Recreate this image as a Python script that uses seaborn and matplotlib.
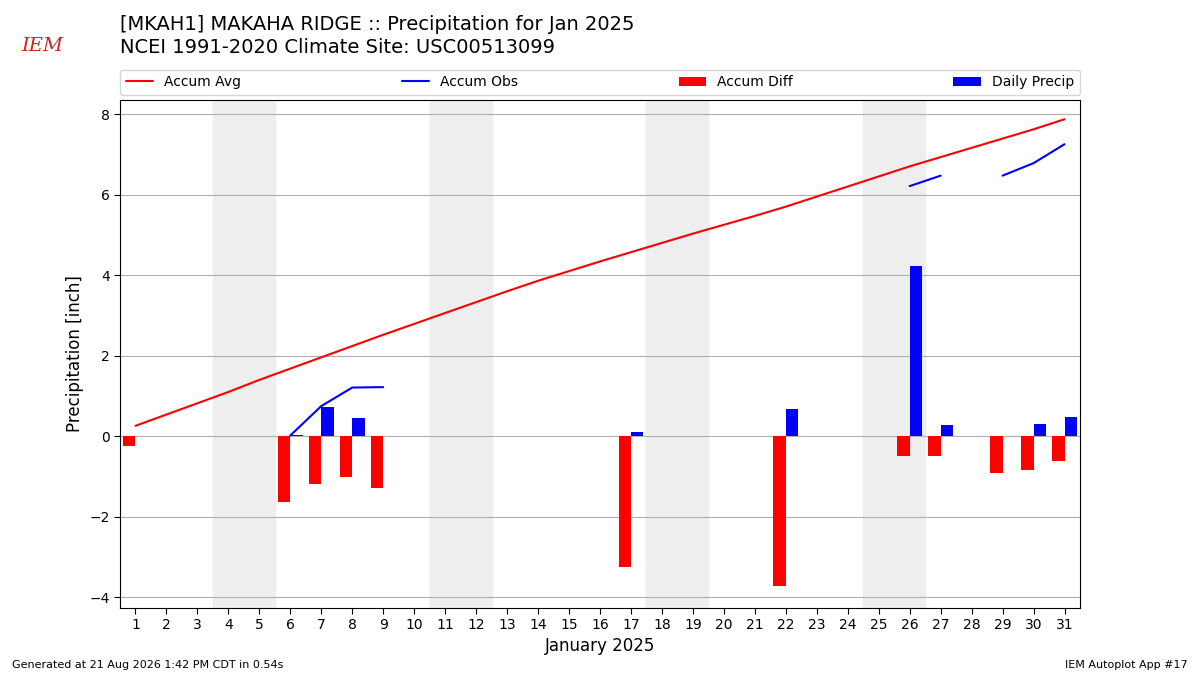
import numpy as np
import matplotlib
matplotlib.use("Agg")
import matplotlib.pyplot as plt
import seaborn as sns

days = np.arange(1, 32)
accum_avg = [0.26, 0.54, 0.82, 1.10, 1.40, 1.68, 1.96, 2.24, 2.52, 2.79, 3.06, 3.33,
             3.60, 3.86, 4.10, 4.34, 4.57, 4.80, 5.03, 5.25, 5.47, 5.70, 5.95, 6.20,
             6.45, 6.70, 6.93, 7.16, 7.39, 7.62, 7.87]
nan = np.nan
accum_obs = [0.01, nan, nan, nan, nan, 0.02, 0.75, 1.21, 1.22, nan, nan, nan,
             nan, nan, nan, nan, nan, nan, nan, nan, nan, nan, nan, nan,
             nan, 6.21, 6.47, nan, 6.47, 6.78, 7.25]
accum_diff = [-0.25, 0, 0, 0, 0, -1.63, -1.19, -1.02, -1.29, 0, 0, 0,
              0, 0, 0, 0, -3.25, 0, 0, 0, 0, -3.72, 0, 0,
              0, -0.48, -0.48, 0, -0.92, -0.84, -0.62]
daily = [0.01, 0, 0, 0, 0, 0.02, 0.72, 0.45, 0, 0, 0, 0,
         0, 0, 0, 0, 0.10, 0, 0, 0, 0, 0.67, 0, 0,
         0, 4.22, 0.27, 0, 0, 0.30, 0.48]
weekends = [(3.5, 5.5), (10.5, 12.5), (17.5, 19.5), (24.5, 26.5)]

sns.set_style("white")
plt.rcParams['font.family'] = ['DejaVu Sans']
plt.rcParams['text.color'] = 'black'
plt.rcParams['axes.labelcolor'] = 'black'
plt.rcParams['xtick.color'] = 'black'
plt.rcParams['ytick.color'] = 'black'
fig = plt.figure(figsize=(12, 6.75), dpi=100)
ax = fig.add_axes([0.1, 0.1, 0.8, 0.752])

for a, b in weekends:
    ax.axvspan(a, b, color="#eeeeee", zorder=0)

ax.plot(days, accum_avg, color="red", label="Accum Avg", zorder=3)
ax.plot(days, accum_obs, color="blue", label="Accum Obs", zorder=3)
ax.bar(days - 0.2, accum_diff, width=0.4, color="red", linewidth=0, label="Accum Diff", zorder=2)
ax.bar(days + 0.2, daily, width=0.4, color="blue", linewidth=0, label="Daily Precip", zorder=2)

ax.set_xlim(0.5, 31.5)
ax.set_ylim(-4.25, 8.35)
ax.set_xticks(days)
ax.set_yticks([-4, -2, 0, 2, 4, 6, 8])
ax.yaxis.grid(True, color="#b0b0b0", linewidth=0.8)
ax.set_axisbelow(True)
for s in ax.spines.values():
    s.set_color("black")
ax.tick_params(axis="both", length=4, color="black", labelsize=10, left=True, bottom=True)
ax.set_xlabel("January 2025", fontsize=12)
ax.set_ylabel("Precipitation [inch]", fontsize=12)

ax.legend(loc="lower left", bbox_to_anchor=(0, 1.01, 1, 0.05), ncol=4, mode="expand",
          fontsize=10, frameon=True, borderaxespad=0)

fig.text(0.1, 0.978, "[MKAH1] MAKAHA RIDGE :: Precipitation for Jan 2025", fontsize=14, va="top")
fig.text(0.1, 0.943, "NCEI 1991-2020 Climate Site: USC00513099", fontsize=14, va="top")
fig.text(0.018, 0.925, "IEM", fontsize=14, color="#cc2222", style="italic", family="DejaVu Serif")
fig.text(0.01, 0.01, "Generated at 21 Aug 2026 1:42 PM CDT in 0.54s", fontsize=8)
fig.text(0.99, 0.01, "IEM Autoplot App #17", fontsize=8, ha="right")

fig.savefig("out.png", dpi=100)
